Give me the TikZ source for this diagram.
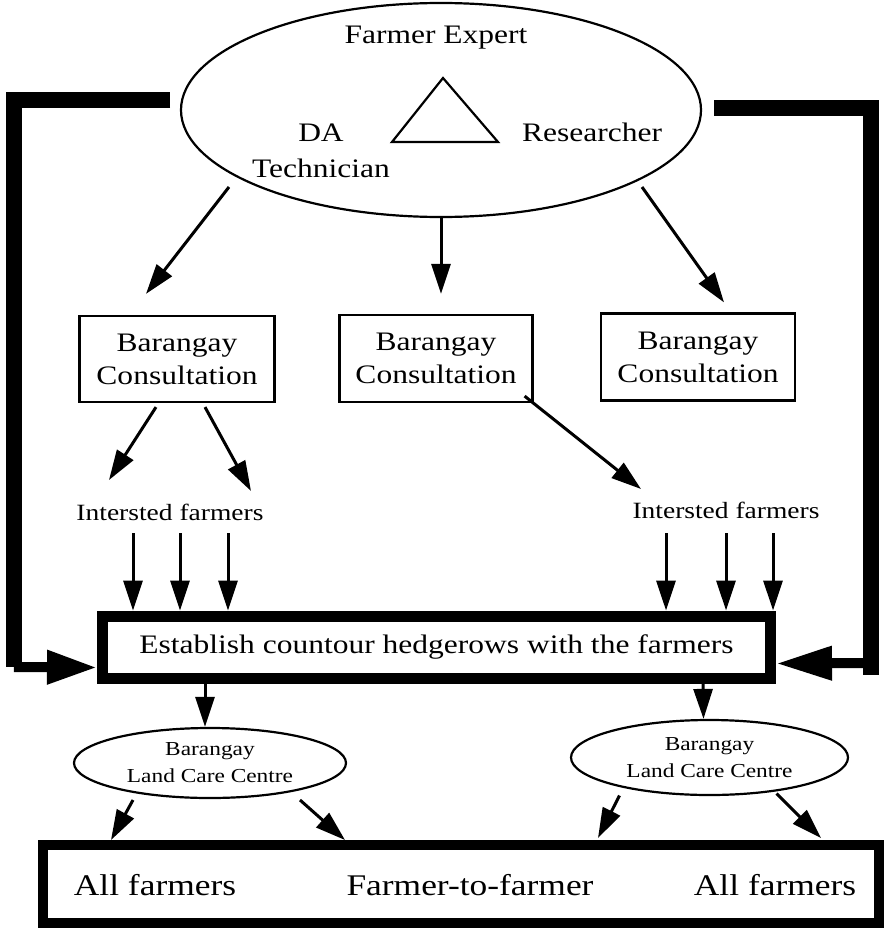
\documentclass[tikz,border=0pt]{standalone}
\usepackage{fontspec}
\setmainfont{Liberation Serif}[FakeStretch=1.18]
\usetikzlibrary{arrows.meta,calc,shapes.geometric}

\begin{document}
\begin{tikzpicture}[x=1pt,y=-1pt,
	arr/.style={line width=3pt,-{Triangle[length=30pt,width=19pt]}},
	fat/.style={line width=16pt},
	fatarr/.style={line width=10pt,-{Triangle[length=50pt,width=32pt]}},
	consult/.style={draw,line width=2.2pt,minimum width=195pt,minimum height=86pt,align=center,font=\fontsize{26.7}{33}\selectfont},
	landcare/.style={draw,ellipse,line width=2.2pt,inner sep=0pt,align=center,font=\fontsize{19.8}{27}\selectfont},
	big/.style={font=\fontsize{26.7}{36}\selectfont},
	small/.style={font=\fontsize{23.3}{28}\selectfont},
	bottom/.style={font=\fontsize{30}{34}\selectfont}]
	\useasboundingbox (0,0) rectangle (884,928);

	\node[draw,ellipse,line width=2.2pt,minimum width=520pt,minimum height=214pt,inner sep=0pt] (expert) at (441,110) {};
	\node[big] (fexp) at (436,38) {Farmer Expert};
	\node[big,align=center] (datech) at (321,151) {DA\\Technician};
	\node[big] (resr) at (592,132) {Researcher};
	\draw[line width=2.2pt] (443,78) -- (392,142) -- (498,142) -- cycle;

	\node[consult] (box1) at (177,359) {Barangay\\Consultation};
	\node[consult,minimum width=193pt,minimum height=87pt] (box2) at (436,358.5) {Barangay\\Consultation};
	\node[consult,minimum width=194pt,minimum height=87pt] (box3) at (698,357) {Barangay\\Consultation};

	\node[small] (lint) at (170,512) {Intersted farmers};
	\node[small] (rint) at (726,510) {Intersted farmers};

	\node[draw,line width=11pt,minimum width=668pt,minimum height=62pt,big] (est) at (436.5,647) {Establish countour hedgerows with the farmers};

	\node[landcare,minimum width=272pt,minimum height=70pt] (lland) at (210,763) {Barangay\\Land Care Centre};
	\node[landcare,minimum width=277pt,minimum height=75pt] (rland) at (709.5,757.5) {Barangay\\Land Care Centre};

	\node[draw,line width=10pt,minimum width=836pt,minimum height=78pt] (all) at (461,884) {};
	\node[bottom] (allL) at (155,885) {All farmers};
	\node[bottom] (f2f) at (470,885) {Farmer-to-farmer};
	\node[bottom] (allR) at (775,885) {All farmers};

	% expert group to the consultations
	\draw[arr] ($(expert.center)+(-212,77)$) -- ($(box1.north)+(-31,-21)$);
	\draw[arr,shorten >=20pt] (expert.south) -- (expert.south |- box2.north);
	\draw[arr] ($(expert.center)+(201,77)$) -- ($(box3.north)+(26,-10)$);

	% consultations to farmers
	\draw[arr] ($(box1.south)+(-21,4)$) -- ($(lint.center)+(-61,-32)$);
	\draw[arr] ($(box1.south)+(28,4)$) -- ($(lint.center)+(81,-21)$);
	\draw[arr] ($(box2.south east)+(-9,-7)$) -- ($(rint.center)+(-85,-21)$);

	\draw[arr] ($(lint.center)+(-37,21)$) -- ($(est.north west)+(36,0)$);
	\draw[arr] ($(lint.center)+(10,21)$) -- ($(est.north west)+(83,0)$);
	\draw[arr] ($(lint.center)+(58,21)$) -- ($(est.north west)+(131,0)$);
	\draw[arr] ($(rint.center)+(-60,23)$) -- ($(est.north east)+(-110,0)$);
	\draw[arr] ($(rint.center)+(0,23)$) -- ($(est.north east)+(-50,0)$);
	\draw[arr] ($(rint.center)+(47,23)$) -- ($(est.north east)+(-3,0)$);

	% feedback brackets
	\coordinate (ltop) at (170,100);
	\coordinate (lcorner) at (14,667);
	\coordinate (rtop) at (714,108);
	\coordinate (rcorner) at (871,663);
	\draw[fat] (ltop) -| (lcorner);
	\draw[fatarr] (lcorner) -- ($(est.south west)+(0,-16)$);
	\draw[fat] (rtop) -| ($(rcorner)+(0,12)$);
	\draw[fatarr,-{Triangle[length=56pt,width=32pt]}] (rcorner) -- ($(est.south east)+(0,-20)$);

	% land care centres
	\draw[arr] ($(est.south west)+(108,0)$) -- ($(lland.north)+(-5,0)$);
	\draw[arr] ($(est.south east)+(-73,0)$) -- ($(rland.north)+(-6,0)$);
	\draw[arr] ($(lland.center)+(-77,37)$) -- ($(all.north west)+(73,0)$);
	\draw[arr] ($(lland.center)+(90,37)$) -- ($(all.north west)+(307,0)$);
	\draw[arr] ($(rland.center)+(-90,38)$) -- ($(all.north west)+(560,-2)$);
	\draw[arr] ($(rland.center)+(67,36)$) -- ($(all.north west)+(783,-2)$);
\end{tikzpicture}
\end{document}
